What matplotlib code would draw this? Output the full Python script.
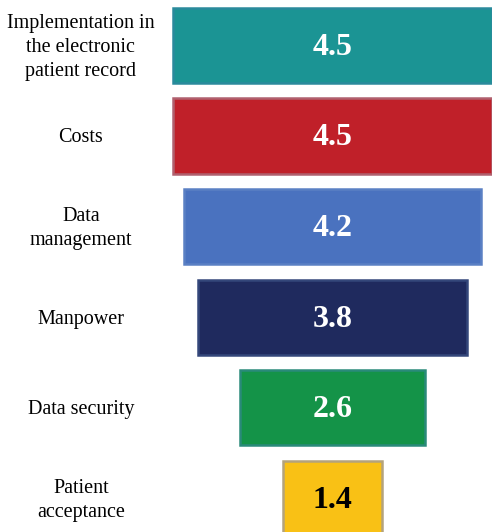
import numpy as np
import matplotlib
matplotlib.use("Agg")
import matplotlib.pyplot as plt

# Data
categories = ["Implementation in\nthe electronic\npatient record", "Costs",
              "Data\nmanagement", "Manpower", "Data security", "Patient\nacceptance"]
values = [4.5, 4.5, 4.2, 3.8, 2.6, 1.4]
colors = ["#1b9494", "#c02029", "#4a72bf", "#1f2a5e", "#149348", "#f9c115"]
edges = ["#2a8a9c", "#b0606e", "#5a80c4", "#34477a", "#2a8a7a", "#b4a37c"]
text_colors = ["white", "white", "white", "white", "white", "black"]

plt.rcParams['font.family'] = ['Liberation Serif', 'DejaVu Serif']

fig = plt.figure(figsize=(4.92, 5.32), dpi=100)
ax = fig.add_axes([0, 0, 1, 1])

y = np.arange(len(values))
vals = np.array(values)
ax.barh(y, vals, left=-vals / 2, height=0.83, color=colors,
        edgecolor=edges, linewidth=1.8)

for i, (v, c) in enumerate(zip(values, text_colors)):
    ax.text(0, i + 0.02, "{:.1f}".format(v), ha="center", va="center",
            color=c, fontsize=23, fontweight="bold")
    ax.text(-3.55, i + 0.02, categories[i], ha="center", va="center",
            color="black", fontsize=14.5, linespacing=1.36)

ax.set_xlim(-4.69, 2.25)
ax.set_ylim(5.37, -0.502)
ax.axis("off")

fig.savefig("out.png", dpi=100)
